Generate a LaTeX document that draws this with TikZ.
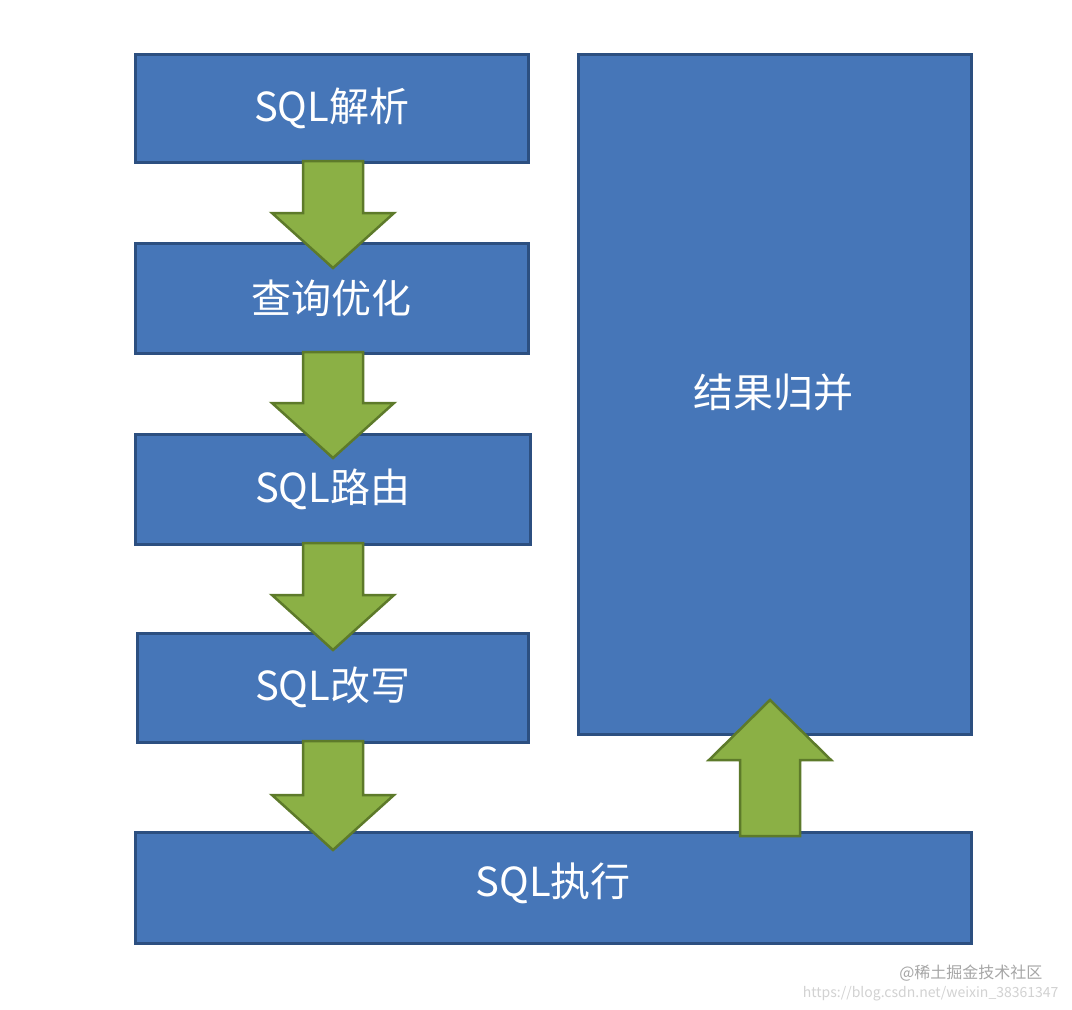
\documentclass[tikz,border=0pt]{standalone}
\usepackage{fontspec}
\newfontfamily\cjk{Noto Sans CJK SC}
\usetikzlibrary{calc}
\definecolor{boxfill}{HTML}{4676B8}
\definecolor{boxline}{HTML}{2C4F80}
\definecolor{arrfill}{HTML}{8BB045}
\definecolor{arrline}{HTML}{5D7A2A}
\tikzset{
  stage/.style={draw=boxline,line width=2.5pt,fill=boxfill,text=white,font=\cjk\fontsize{40}{44}\selectfont,inner sep=0pt,anchor=north west},
  fatarrow/.style={draw=arrline,line width=2.5pt,fill=arrfill,line join=miter},
}
\newcommand{\downarr}[3]{% x center, top y, tip y
  \draw[fatarrow] (#1-30,#2) -- (#1+30,#2) -- (#1+30,#3-55) -- (#1+61,#3-55) -- (#1,#3) -- (#1-61,#3-55) -- (#1-30,#3-55) -- cycle;}
\begin{document}
\begin{tikzpicture}[x=1pt,y=-1pt]
\useasboundingbox[fill=white] (0,0) rectangle (1072,1010);
\node[stage,minimum width=393pt,minimum height=108pt] (a) at (134,53) {};
\node[font=\cjk\fontsize{40}{44}\selectfont,text=white] at (a.center) {SQL解析};
\node[stage,minimum width=393pt,minimum height=110pt] (b) at (134,242) {};
\node[font=\cjk\fontsize{40}{44}\selectfont,text=white] at (b.center) {查询优化};
\node[stage,minimum width=395pt,minimum height=110pt] (c) at (134,433) {};
\node[font=\cjk\fontsize{40}{44}\selectfont,text=white] at (c.center) {SQL路由};
\node[stage,minimum width=391pt,minimum height=109pt] (d) at (136,632) {};
\node[font=\cjk\fontsize{40}{44}\selectfont,text=white] at (d.center) {SQL改写};
\node[stage,minimum width=836pt,minimum height=111pt] (e) at (134,831) {};
\node[font=\cjk\fontsize{40}{44}\selectfont,text=white] at ($(e.center)+(0,-4)$) {SQL执行};
\node[stage,minimum width=393pt,minimum height=680pt] (f) at (577,53) {};
\node[font=\cjk\fontsize{40}{44}\selectfont,text=white] at (773,392) {结果归并};
\downarr{333}{161}{268}
\downarr{333}{352}{458}
\downarr{333}{543}{650}
\downarr{333}{741}{850}
\draw[fatarrow] (740,836) -- (800,836) -- (800,760) -- (831,760) -- (770,700) -- (709,760) -- (740,760) -- cycle;
\node[font=\cjk\fontsize{16}{18}\selectfont,text=gray!70,anchor=east] (w1) at (1046,973) {@稀土掘金技术社区};
\node[font=\cjk\fontsize{14}{16}\selectfont,text=gray!35,anchor=east] (w2) at (1062,994) {https://blog.csdn.net/weixin\_38361347};
\end{tikzpicture}
\end{document}
